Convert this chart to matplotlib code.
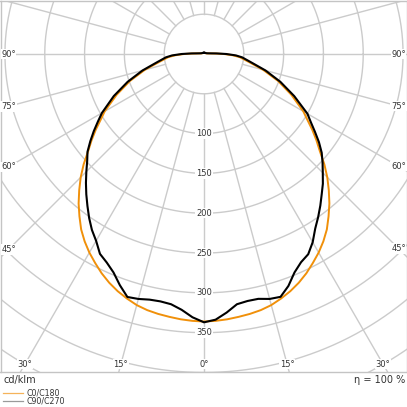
import numpy as np
import matplotlib
matplotlib.use("Agg")
import matplotlib.pyplot as plt
from matplotlib.lines import Line2D

#---------------Data (cd/klm over gamma angle)-------------------------

gamma = [0, 2.5, 5, 7.5, 10, 12.5, 15, 17.5, 20, 22.5, 25, 27.5, 30, 32.5, 35,
         37.5, 40, 42.5, 45, 47.5, 50, 52.5, 55, 57.5, 60, 65, 70, 75, 80, 85,
         87.5, 90, 92.5, 95, 100, 110, 130, 150, 180]

c0 = [336, 335.5, 334.5, 333, 331.5, 329.5, 326.5, 322, 317, 311, 304, 296, 288,
      279, 269, 257, 245, 232, 219, 205, 190, 178, 166, 154, 144, 121, 99, 77, 57,
      45, 36, 25, 14, 8, 4, 2.5, 1.8, 1.5, 1.3]
c180 = [336, 335.5, 334.5, 333, 331.5, 329.5, 326.5, 322, 317, 311, 304, 296, 288,
        279, 269, 257, 245, 232, 219, 205, 190, 178, 166, 154, 144, 121, 99, 77, 57,
        45, 36, 25, 14, 8, 4, 2.5, 1.8, 1.5, 1.3]

c90 = [337, 334, 326, 317, 315, 315, 318.5, 319.8, 310, 297, 288.5, 283.5, 273,
       260, 250, 240, 230, 221, 211, 202, 193, 182, 170, 159, 150, 125, 102, 80, 60,
       48, 40, 28, 16, 9, 5, 3, 2.2, 1.8, 1.6]
c270 = [337, 331, 322.5, 317, 315.5, 316, 318.5, 320, 309, 297, 289, 283, 271,
        262, 251.5, 240.5, 230, 219.5, 209, 199, 191, 180, 169, 158, 148, 125, 102,
        80, 60, 48, 40, 28, 16, 9, 5, 3, 2.2, 1.8, 1.6]

rings = [50, 100, 150, 200, 250, 300, 350, 400, 450, 500, 550, 600]
ring_labels = [100, 150, 200, 250, 300, 350]
angle_labels = [0, 15, 30, 45, 60, 75, 90]

legend_names = ["C0/C180", "C90/C270"]
unit = "cd/klm"
eta = 100

#---------------Layout------------------------------------------------

W = 407
s = 1.256          # cd/klm per pixel
cx, cy = 204, 54   # pole in pixels
frame_bottom = 372.3

fig = plt.figure(figsize=(W / 100, W / 100), dpi=100)
ax = fig.add_axes([0.5 / W, (W - frame_bottom) / W, 406 / W, (frame_bottom - 0.5) / W])
xlim = (-(cx - 0.5) * s, (406.5 - cx) * s)
ylim = (-(frame_bottom - cy) * s, (cy - 0.5) * s)
ax.set_xlim(xlim)
ax.set_ylim(ylim)
ax.set_xticks([])
ax.set_yticks([])
for sp in ax.spines.values():
    sp.set_color("#c4c4c4")
    sp.set_linewidth(1.0)

grid_col = "#cbcbcb"

#rings
t = np.linspace(0, 2 * np.pi, 721)
for r in rings:
    ax.plot(r * np.cos(t), r * np.sin(t), color=grid_col, lw=1.0, zorder=1)

#radial lines every 15 deg, starting at the first ring
for a in range(0, 360, 15):
    ar = np.radians(a)
    ax.plot([rings[0] * np.sin(ar), 800 * np.sin(ar)],
            [-rings[0] * np.cos(ar), -800 * np.cos(ar)],
            color=grid_col, lw=1.0, zorder=1)

#ring labels on the 0 deg line
for r in ring_labels:
    ax.text(0, -r, str(r), ha="center", va="center", fontsize=6, color="#333333",
            zorder=3, bbox=dict(fc="white", ec="none", pad=0.5))

#angle labels where the radial lines meet the frame (inset 8 px)
d = 8 * s
xl, xr, yb = -(xlim[0] + d), xlim[1] - d, -(ylim[0] + d)
for a in angle_labels:
    ar = np.radians(a)
    for side in (-1, 1):
        if a == 0 and side == 1:
            continue
        cand = []
        if np.sin(ar) > 1e-6:
            cand.append((xr if side > 0 else xl) / np.sin(ar))
        if np.cos(ar) > 1e-6:
            cand.append(yb / np.cos(ar))
        tt = min(cand)
        ax.text(side * tt * np.sin(ar), -tt * np.cos(ar), f"{a}°", ha="center",
                va="center", fontsize=6, color="#333333", zorder=3,
                bbox=dict(fc="white", ec="none", pad=0.5))

#---------------Curves------------------------------------------------

g = np.radians(gamma)


def curve(right, left):
    x = np.concatenate([-np.array(left)[::-1] * np.sin(g[::-1]), np.array(right) * np.sin(g)])
    y = np.concatenate([-np.array(left)[::-1] * np.cos(g[::-1]), -np.array(right) * np.cos(g)])
    return x, y


orange = "#f0900a"
x0, y0 = curve(c0, c180)
ax.plot(x0, y0, color=orange, lw=1.4, zorder=4, solid_joinstyle="round")
x9, y9 = curve(c90, c270)
ax.plot(x9, y9, color="black", lw=1.5, zorder=5, solid_joinstyle="round")

#---------------Texts below the frame---------------------------------

fig.text(3 / W, 1 - 380.5 / W, unit, ha="left", va="center", fontsize=7, color="#333333")
fig.text(405 / W, 1 - 380 / W, f"η = {eta} %", ha="right", va="center", fontsize=7,
         color="#333333")

leg_cols = ["#f5b35a", "#9a9a9a"]
for i, name in enumerate(legend_names):
    yy = 1 - (393 + 8.3 * i) / W
    fig.add_artist(Line2D([3 / W, 23 / W], [yy, yy], color=leg_cols[i], lw=0.9,
                          transform=fig.transFigure))
    fig.text(27 / W, yy, name, ha="left", va="center", fontsize=5.7, color="#333333")

fig.savefig("out.png", dpi=100)
